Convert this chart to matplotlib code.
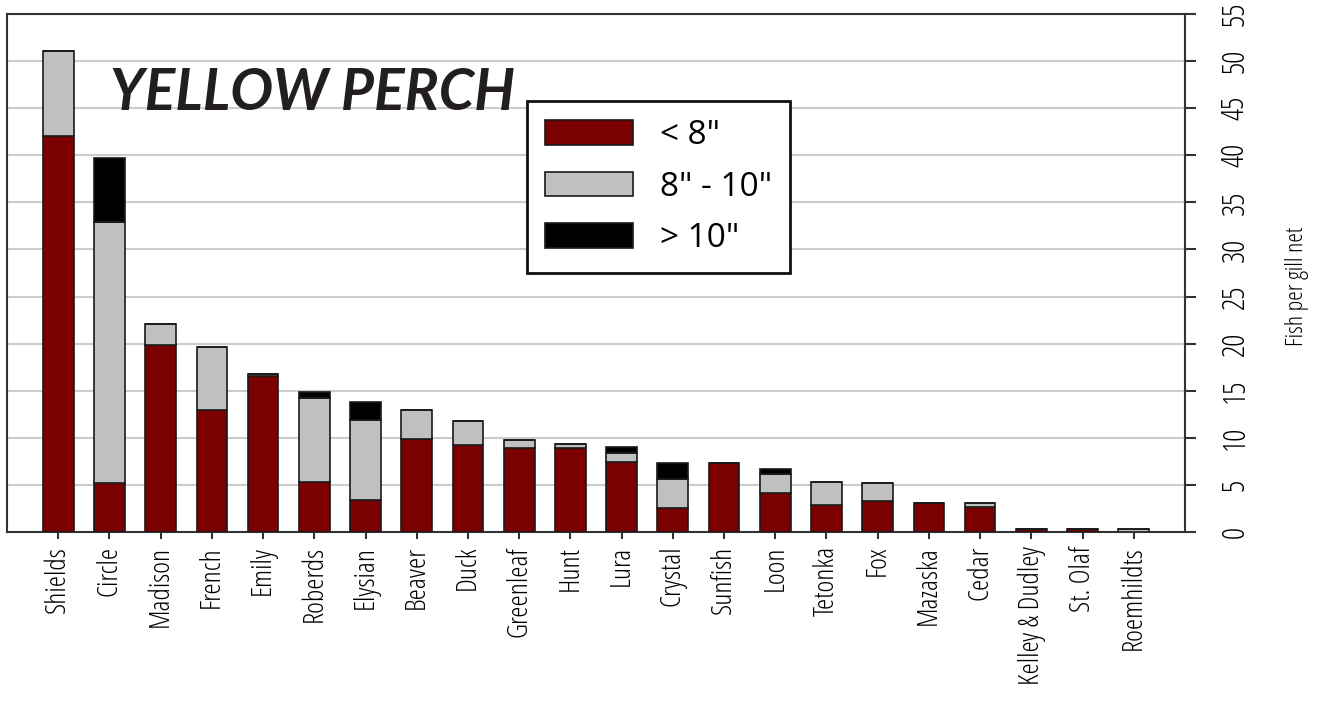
import numpy as np
import matplotlib
matplotlib.use("Agg")
import matplotlib.pyplot as plt

# lakes, sorted by total catch
lakes = ["Shields", "Circle", "Madison", "French", "Emily", "Roberds",
         "Elysian", "Beaver", "Duck", "Greenleaf", "Hunt", "Lura",
         "Crystal", "Sunfish", "Loon", "Tetonka", "Fox", "Mazaska",
         "Cedar", "Kelley & Dudley", "St. Olaf", "Roemhildts"]

# fish per gill net by length class
under_8 = [42.0, 5.2, 19.9, 12.9, 16.6, 5.3, 3.4, 9.9, 9.2, 8.9, 8.9,
           7.4, 2.55, 7.3, 4.15, 2.9, 3.3, 3.1, 2.6, 0.36, 0.3, 0.0]
from_8_to_10 = [9.1, 27.7, 2.15, 6.7, 0.2, 8.9, 8.5, 3.0, 2.6, 0.9, 0.4,
                1.0, 3.05, 0.0, 2.05, 2.45, 1.9, 0.0, 0.45, 0.0, 0.0, 0.3]
over_10 = [0.0, 6.8, 0.0, 0.0, 0.0, 0.7, 1.9, 0.0, 0.0, 0.0, 0.0,
           0.6, 1.7, 0.0, 0.5, 0.0, 0.0, 0.0, 0.0, 0.0, 0.0, 0.0]

legend_labels = ['< 8"', '8" - 10"', '> 10"']
y_ticks = list(range(0, 60, 5))

narrow = dict(family=["Open Sans", "DejaVu Sans"], stretch="condensed")

fig = plt.figure(figsize=(13.28, 7.09), dpi=100)
ax = fig.add_axes([0.0053, 0.2497, 0.8870, 0.7306])

x = np.arange(len(lakes))
a = np.array(under_8)
b = np.array(from_8_to_10)
c = np.array(over_10)

kw = dict(width=0.6, edgecolor="#1a1a1a", linewidth=1.2, zorder=3)
ax.bar(x, a, color="#7b0000", label=legend_labels[0], **kw)
ax.bar(x, b, bottom=a, color="#c0c0c0", label=legend_labels[1], **kw)
ax.bar(x, c, bottom=a + b, color="#000000", label=legend_labels[2], **kw)

ax.set_xlim(-1, 22)
ax.set_ylim(0, 55)

ax.set_xticks(x)
ax.set_xticklabels(lakes, rotation=90, fontsize=20.5, color="black", **narrow)
ax.tick_params(axis="x", length=5, width=1.5, color="#333333", pad=5)

ax.yaxis.tick_right()
ax.yaxis.set_label_position("right")
ax.set_yticks(y_ticks)
ax.set_yticklabels([str(v) for v in y_ticks], rotation=90, va="center",
                   fontsize=22, color="black", **narrow)
ax.tick_params(axis="y", length=8, width=1.5, color="#333333", pad=17)
ax.set_ylabel("Fish per gill net", fontsize=17.5, labelpad=24, y=0.475,
              **narrow)

ax.grid(axis="y", color="#cccccc", linewidth=1.5, zorder=0)
for s in ax.spines.values():
    s.set_color("#333333")
    s.set_linewidth(1.5)

ax.text(0.087, 0.847, "YELLOW PERCH", transform=ax.transAxes,
        fontsize=41, fontweight="bold", fontstyle="italic",
        family=["Lato", "DejaVu Sans"], color="#231f20", va="center")

leg = ax.legend(loc="upper left", bbox_to_anchor=(0.441, 0.832),
                prop=dict(size=24, family=["Open Sans", "DejaVu Sans"]),
                frameon=True, fancybox=False, handlelength=2.65,
                handleheight=0.75, labelspacing=0.55, borderpad=0.55,
                handletextpad=0.8, borderaxespad=0)
leg.get_frame().set_edgecolor("#111111")
leg.get_frame().set_linewidth(2)
leg.get_frame().set_alpha(1)

fig.savefig("out.png", dpi=100)
